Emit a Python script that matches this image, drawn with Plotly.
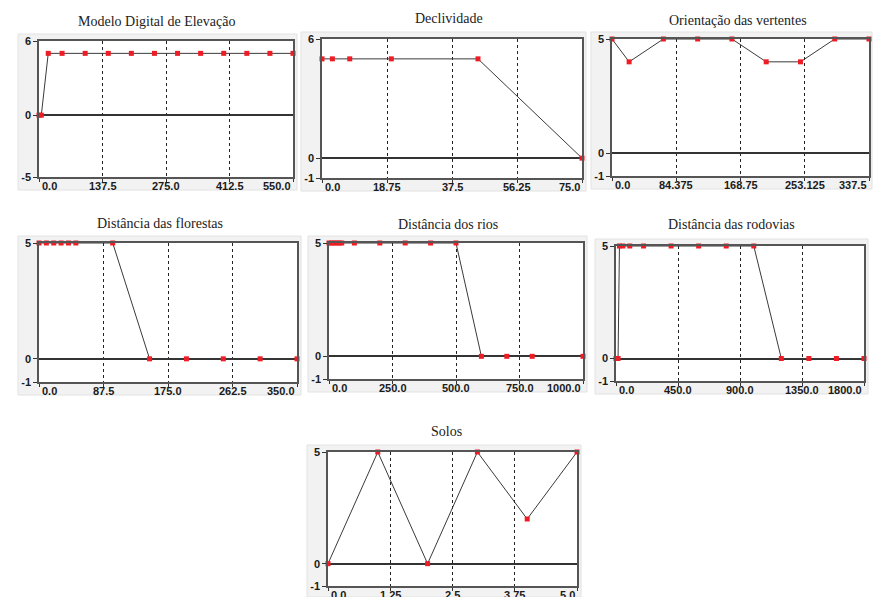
import plotly.graph_objects as go

W, H = 873, 597

# ---------------- data ----------------
titles = [
    "Modelo Digital de Elevação",
    "Declividade",
    "Orientação das vertentes",
    "Distância das florestas",
    "Distância dos rios",
    "Distância das rodovias",
    "Solos",
]

mde_x = [0, 5, 20, 50, 100, 150, 200, 250, 300, 350, 400, 450, 500, 550]
mde_y = [0, 0, 5, 5, 5, 5, 5, 5, 5, 5, 5, 5, 5, 5]

decl_x = [0, 3, 8, 20, 45, 75]
decl_y = [5, 5, 5, 5, 5, 0]

orient_x = [0, 22.5, 67.5, 112.5, 157.5, 202.5, 247.5, 292.5, 337.5]
orient_y = [5, 4, 5, 5, 5, 4, 4, 5, 5]

flor_x = [0, 10, 20, 30, 40, 50, 100, 150, 200, 250, 300, 350]
flor_y = [5, 5, 5, 5, 5, 5, 5, 0, 0, 0, 0, 0]

rios_x = [0, 10, 20, 30, 40, 50, 100, 200, 300, 400, 500, 600, 700, 800, 1000]
rios_y = [5, 5, 5, 5, 5, 5, 5, 5, 5, 5, 5, 0, 0, 0, 0]

rod_x = [0, 15, 25, 50, 100, 200, 400, 600, 800, 1000, 1200, 1400, 1600, 1800]
rod_y = [0, 0, 5, 5, 5, 5, 5, 5, 5, 5, 0, 0, 0, 0]

solos_x = [0, 1, 2, 3, 4, 5]
solos_y = [0, 5, 0, 5, 2, 5]

xtick_vals = [
    [0, 137.5, 275, 412.5, 550],
    [0, 18.75, 37.5, 56.25, 75],
    [0, 84.375, 168.75, 253.125, 337.5],
    [0, 87.5, 175, 262.5, 350],
    [0, 250, 500, 750, 1000],
    [0, 450, 900, 1350, 1800],
    [0, 1.25, 2.5, 3.75, 5],
]
xtick_text = [
    ["0.0", "137.5", "275.0", "412.5", "550.0"],
    ["0.0", "18.75", "37.5", "56.25", "75.0"],
    ["0.0", "84.375", "168.75", "253.125", "337.5"],
    ["0.0", "87.5", "175.0", "262.5", "350.0"],
    ["0.0", "250.0", "500.0", "750.0", "1000.0"],
    ["0.0", "450.0", "900.0", "1350.0", "1800.0"],
    ["0.0", "1.25", "2.5", "3.75", "5.0"],
]
ytick_vals = [
    [-5, 0, 6],
    [-1, 0, 6],
    [-1, 0, 5],
    [-1, 0, 5],
    [-1, 0, 5],
    [-1, 0, 5],
    [-1, 0, 5],
]

series = [
    (mde_x, mde_y), (decl_x, decl_y), (orient_x, orient_y),
    (flor_x, flor_y), (rios_x, rios_y), (rod_x, rod_y), (solos_x, solos_y),
]

# ---------------- layout (pixel boxes of plot areas) ----------------
# (left, right, top, bottom)
boxes = [
    (39, 293, 41, 177),
    (322, 582, 39, 178),
    (612, 869, 39, 176),
    (39, 297, 243, 382),
    (329, 583, 243, 379),
    (616, 864, 246, 381),
    (328, 577, 452, 586),
]
xranges = [
    [0, 550], [0, 75], [0, 337.5], [0, 350], [0, 1000], [0, 1800], [0, 5],
]
title_pos = [
    (156, 22), (449, 19), (738, 20), (160, 223), (448, 225), (731, 225), (447, 431),
]

TICKFONT = dict(family="Liberation Sans", size=11, color="#1a1a1a", weight="bold")

fig = go.Figure()
shapes = []
annotations = []
layout_axes = {}

for i in range(7):
    n = "" if i == 0 else str(i + 1)
    l, r, t, b = boxes[i]
    xs, ys = series[i]
    fig.add_trace(go.Scatter(
        x=xs, y=ys, mode="lines+markers",
        line=dict(color="#3a3a3a", width=1),
        marker=dict(symbol="square", size=5, color="#ee1c24"),
        cliponaxis=False, showlegend=False, hoverinfo="x+y",
        xaxis="x" + n, yaxis="y" + n,
    ))
    yv = ytick_vals[i]
    layout_axes["xaxis" + n] = dict(
        domain=[l / W, r / W], range=xranges[i], anchor="y" + n,
        tickvals=xtick_vals[i], showticklabels=False,
        showgrid=True, gridcolor="#222222", griddash="dot", gridwidth=1,
        zeroline=False, automargin=False,
        showline=True, linecolor="#555555", linewidth=1.5, mirror=True,
        ticks="outside", ticklen=3, tickcolor="#333333",
        fixedrange=True,
    )
    layout_axes["yaxis" + n] = dict(
        domain=[1 - b / H, 1 - t / H], range=[yv[0], yv[-1]], anchor="x" + n,
        tickvals=yv, ticktext=[str(v) for v in yv],
        showgrid=False, automargin=False,
        zeroline=True, zerolinecolor="#333333", zerolinewidth=1.8,
        showline=True, linecolor="#555555", linewidth=1.5, mirror=True,
        ticks="outside", ticklen=4, tickcolor="#333333",
        tickfont=TICKFONT,
        fixedrange=True,
    )
    # light grey panel frame, then white plotting area
    shapes.append(dict(
        type="rect", xref="paper", yref="paper", layer="below",
        x0=(l - 21) / W, x1=min(r + 4, W - 1) / W,
        y0=1 - min(b + 13, H) / H, y1=1 - (t - 7) / H,
        fillcolor="#f2f2f2", line=dict(color="#e2e2e2", width=1),
    ))
    shapes.append(dict(
        type="rect", xref="paper", yref="paper", layer="below",
        x0=l / W, x1=r / W, y0=1 - b / H, y1=1 - t / H,
        fillcolor="white", line=dict(width=0),
    ))
    # x tick labels: first left-aligned, last right-aligned, others centred
    vals = xtick_vals[i]
    for k, (v, txt) in enumerate(zip(vals, xtick_text[i])):
        if k == 0:
            xa = "left"
        elif k == len(vals) - 1:
            xa = "right"
        else:
            xa = "center"
        annotations.append(dict(
            text=txt, xref="x" + n, yref="paper", x=v,
            y=1 - (b + 1) / H, xanchor=xa, yanchor="top",
            showarrow=False, font=TICKFONT,
            xshift=(1 if k == 0 else 0),
        ))
    tx, ty = title_pos[i]
    annotations.append(dict(
        text=titles[i], xref="paper", yref="paper",
        x=tx / W, y=1 - ty / H, xanchor="center", yanchor="middle",
        showarrow=False,
        font=dict(family="Liberation Serif", size=14, color="#222222"),
    ))

fig.update_layout(
    width=W, height=H,
    margin=dict(l=0, r=0, t=0, b=0, autoexpand=False),
    paper_bgcolor="white", plot_bgcolor="white",
    shapes=shapes, annotations=annotations,
    **layout_axes,
)

fig.write_html(
    "out.html",
    config={"displayModeBar": False},
    post_script="document.body.style.margin='0px';document.body.style.overflow='hidden';",
)
